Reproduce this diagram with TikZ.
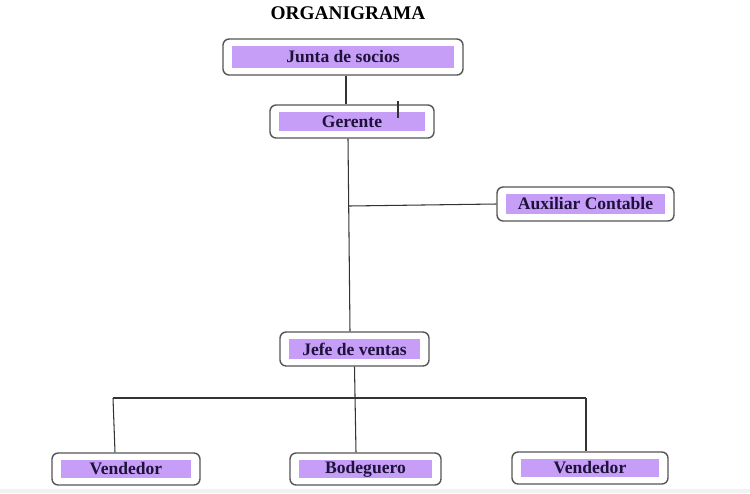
\documentclass[tikz,border=0pt]{standalone}
\usepackage{fontspec}
\setmainfont{Liberation Serif}
\definecolor{cargo}{RGB}{198,158,248}
\definecolor{tinta}{RGB}{30,18,58}
\definecolor{borde}{RGB}{85,85,85}
\usetikzlibrary{positioning,calc}

\begin{document}
\begin{tikzpicture}[
    caja/.style={draw=borde,line width=0.8pt,rounded corners=3.5pt,fill=white,inner sep=0pt},
    etiqueta/.style={fill=cargo,inner sep=0pt,text=tinta,font=\bfseries\fontsize{10}{12}\selectfont},
    linea/.style={draw=black!80,line width=0.6pt}]
  \useasboundingbox (0,0) rectangle (15,-9.86);
  \fill[black!5] (0,-9.77) rectangle (15,-9.86);
  % Title
  \node[font=\bfseries\fontsize{11}{13}\selectfont] (titulo) at (6.96,-0.26) {ORGANIGRAMA};
  % Boxes
  \foreach \n/\x/\y/\w/\h/\t in {junta/6.86/-1.14/4.80/0.72/Junta de socios,
      gerente/7.04/-2.43/3.28/0.66/Gerente,
      aux/11.71/-4.08/3.54/0.68/Auxiliar Contable,
      jefe/7.09/-6.98/2.98/0.68/Jefe de ventas,
      vend1/2.52/-9.38/2.96/0.64/Vendedor,
      bodeg/7.31/-9.38/3.02/0.64/Bodeguero,
      vend2/11.80/-9.36/3.12/0.64/Vendedor} {
    \node[caja,minimum width=\w cm,minimum height=\h cm] (\n) at (\x,\y) {};
    \pgfmathsetmacro{\wi}{\w-0.36}
    \pgfmathsetmacro{\hi}{\h-0.28}
    \node[etiqueta,minimum width=\wi cm,minimum height=\hi cm] (\n-txt) at (\n) {\t};
  }
  % Connectors
  \draw[linea] ([xshift=0.06cm]junta.south) -- ([xshift=-0.12cm]gerente.north);
  \draw[linea] (7.96,-2.02) -- (7.96,-2.36);
  \coordinate (rama) at (6.98,-4.12);
  \draw[linea] ([xshift=-0.08cm]gerente.south) -- ([xshift=-0.09cm]jefe.north);
  \draw[linea] (rama) -- (aux.west);
  \draw[linea] (jefe.south) -- ([xshift=-0.19cm]bodeg.north);
  \coordinate (izq) at (2.26,-7.96);
  \coordinate (der) at (11.72,-7.96);
  \draw[linea] (izq) -- (der);
  \draw[linea] (izq) -- ([xshift=-0.22cm]vend1.north);
  \draw[linea] (der) -- ([xshift=-0.08cm]vend2.north);
\end{tikzpicture}
\end{document}
